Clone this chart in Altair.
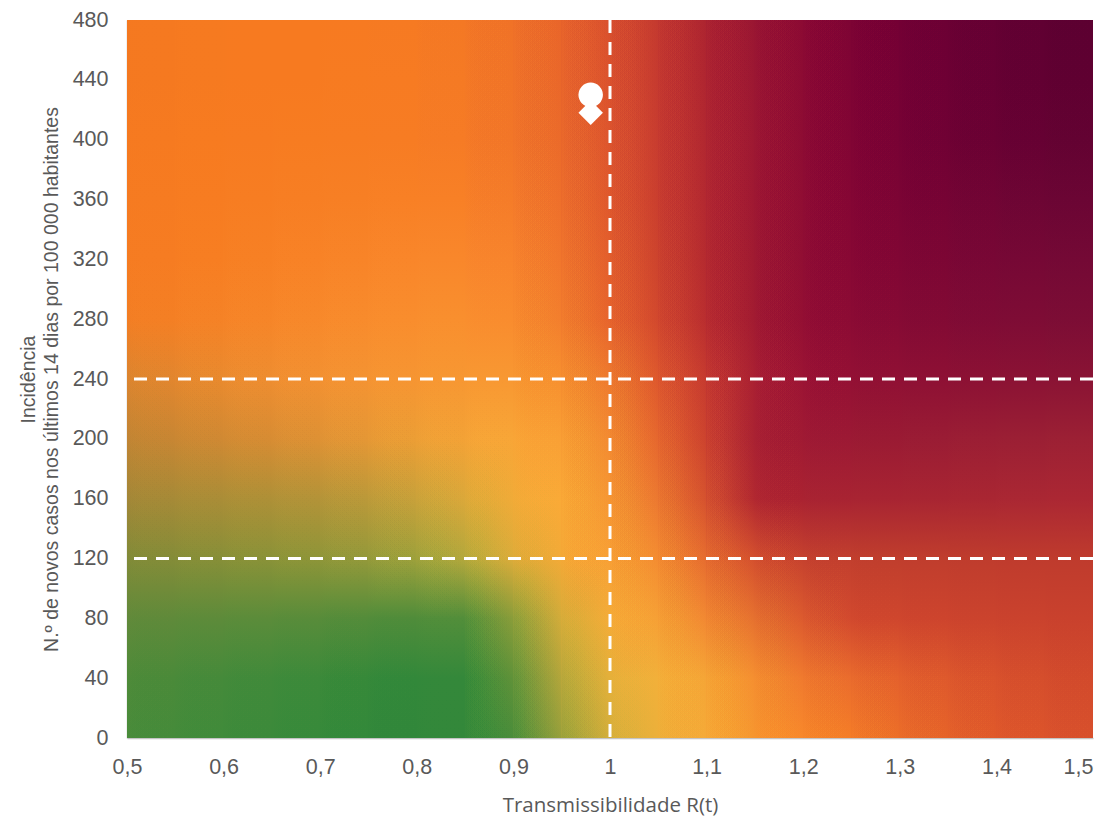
import altair as alt
import pandas as pd

# grid sample positions (R(t) columns, incidence rows)
r_values = [0.5, 0.55, 0.6, 0.65, 0.7, 0.75, 0.8, 0.85, 0.9, 0.95, 1.0,
            1.05, 1.1, 1.15, 1.2, 1.25, 1.3, 1.35, 1.4, 1.45, 1.5]
inc_values = [0, 40, 80, 120, 160, 200, 240, 280, 320, 360, 400, 440, 480]

# colours, one list per incidence row, one entry per R(t) column
row_0 = ["#4a8c3a", "#458b3a", "#408b3a", "#3c8a3a", "#378a3a", "#33893a", "#31873a", "#33883a", "#4a8d3a", "#98a03b", "#d4ae3a",
         "#ecb03a", "#f5aa37", "#f6962f", "#f8882b", "#f57d27", "#ec6e28", "#e66329", "#e0592a", "#dc542b", "#d8502c"]
row_40 = ["#4f8b39", "#4a8a39", "#458a3a", "#408a3a", "#3c8a3a", "#368939", "#32883a", "#34883a", "#609239", "#b4a63b", "#e4b03a",
          "#f2b03a", "#f5a536", "#f58f30", "#f07a2e", "#ea6c2d", "#e4612c", "#de592c", "#d9522c", "#d54e2c", "#d24a2c"]
row_80 = ["#62893a", "#5f8a3a", "#5d8b3a", "#5b8c3a", "#588c3a", "#538c3a", "#4f8c3a", "#528e3a", "#8a9d3a", "#d4ac3a", "#f4ac38",
          "#f6a035", "#f28832", "#e6712f", "#dc5a2e", "#d2492e", "#cf462d", "#cd442d", "#cb432d", "#ca422d", "#c9412d"]
row_120 = ["#808a38", "#848c38", "#878f38", "#8a9238", "#8e9538", "#94993a", "#9ea13b", "#b4a83c", "#dcac3a", "#f3aa37", "#f8a035",
           "#f48c31", "#e66c2f", "#d4502e", "#c6422e", "#c23f2e", "#c03e2d", "#c03d2d", "#bf3c2d", "#bf3b2d", "#bf3b2d"]
row_160 = ["#a28637", "#a68a37", "#aa8d37", "#ae9037", "#b39338", "#bb9939", "#c8a13a", "#dba83a", "#f0ab38", "#faaa37", "#f69633",
           "#ec7830", "#d5512e", "#b22830", "#aa2231", "#a82332", "#a82432", "#a82532", "#a92632", "#aa2733", "#ab2733"]
row_200 = ["#c08434", "#c88633", "#d08933", "#d78c33", "#de9134", "#e59735", "#ec9e35", "#f3a236", "#f8a637", "#f9a035", "#f38a31",
           "#e6672e", "#cc422e", "#aa2232", "#a01a33", "#9c1934", "#9a1a33", "#9a1c34", "#9b1e34", "#9b1f34", "#9c2034"]
row_240 = ["#da8430", "#e2862e", "#e98a2e", "#ee8d30", "#f29031", "#f49332", "#f69532", "#f79732", "#f89832", "#f7902f", "#ee7a2e",
           "#de582d", "#c63a2f", "#aa2032", "#9c1434", "#941034", "#901034", "#8e1034", "#8c1134", "#8b1234", "#8a1334"]
row_280 = ["#f27d23", "#f47f24", "#f58226", "#f68528", "#f7882a", "#f88b2c", "#f98d2d", "#f98f2e", "#f98c2e", "#f37e2d", "#e7642c",
           "#d2482d", "#b92d2f", "#a21b31", "#940f33", "#8c0b34", "#860a34", "#820a34", "#7f0b35", "#7e0c35", "#7c0d35"]
row_320 = ["#f57b21", "#f67c22", "#f77e22", "#f78024", "#f88226", "#f88428", "#f9862a", "#f9872b", "#f8842c", "#f1762c", "#e35e2c",
           "#cd432d", "#b52a2f", "#a01a31", "#910e33", "#880834", "#810634", "#7c0634", "#780735", "#760835", "#740935"]
row_360 = ["#f57a21", "#f67b21", "#f77c21", "#f77d22", "#f77e23", "#f77f24", "#f88025", "#f88026", "#f57c29", "#ee6f2b", "#df582c",
           "#ca3e2e", "#b32830", "#9f1832", "#900d33", "#850634", "#7c0434", "#760334", "#710434", "#6d0534", "#6b0534"]
row_400 = ["#f57920", "#f67a20", "#f77b20", "#f77b21", "#f77c21", "#f77c22", "#f77c23", "#f67b25", "#f27628", "#eb6a2a", "#dd552d",
           "#c83c2f", "#b12730", "#9e1832", "#8e0c33", "#820534", "#780234", "#700134", "#6a0133", "#660133", "#630232"]
row_440 = ["#f47820", "#f57920", "#f67a20", "#f77a20", "#f77a20", "#f77b21", "#f77b22", "#f57a24", "#f17427", "#ea672a", "#db522d",
           "#c63a2f", "#af2530", "#9c1732", "#8d0b33", "#800434", "#760134", "#6e0034", "#670033", "#620032", "#5f0031"]
row_480 = ["#f47820", "#f57920", "#f67a20", "#f77a20", "#f77a20", "#f77a21", "#f67a22", "#f47824", "#f07227", "#e9652a", "#d9502d",
           "#c4392f", "#ad2430", "#9a1632", "#8c0a33", "#7e0434", "#740034", "#6c0034", "#650033", "#600032", "#5c0031"]
grid = [row_0, row_40, row_80, row_120, row_160, row_200, row_240,
        row_280, row_320, row_360, row_400, row_440, row_480]

# axes
x_ticks = [0.5, 0.6, 0.7, 0.8, 0.9, 1.0, 1.1, 1.2, 1.3, 1.4, 1.5]
y_ticks = [0, 40, 80, 120, 160, 200, 240, 280, 320, 360, 400, 440, 480]
x_domain = [0.5, 1.5]
y_domain = [0, 480]
x_title = "Transmissibilidade R(t)"
y_title = ["Incidência", "N.º de novos casos nos últimos 14 dias por 100 000 habitantes"]

# threshold lines
threshold_r = [1.0]
threshold_inc = [120, 240]

# current situation markers
point_r = [0.98, 0.98]
point_inc = [430, 418]
point_kind = ["circle", "diamond"]

xs = alt.Scale(domain=x_domain, nice=False, zero=False)
ys = alt.Scale(domain=y_domain, nice=False, zero=False)

label_fmt = "replace(format(datum.value, '~g'), '.', ',')"

x_axis = alt.Axis(values=x_ticks, labelExpr=label_fmt, title=x_title,
                  labelFlush=False, labelPadding=18, titlePadding=18,
                  labelAlign={"condition": {"test": "datum.value >= 1.49", "value": "right"}, "value": "center"},
                  titleFont="Open Sans", titleFontSize=20.5, titleFontWeight="normal")
y_axis = alt.Axis(values=y_ticks, labelExpr=label_fmt, title=y_title,
                  labelPadding=19, titlePadding=11, titleFont="Liberation Sans", titleFontSize=19.5,
                  titleFontWeight="normal", titleLineHeight=22.5)


def X(f):
    return alt.X(f, scale=xs, axis=x_axis)


def Y(f):
    return alt.Y(f, scale=ys, axis=y_axis)


def vgrad(colors):
    stops = [alt.GradientStop(offset=round((yv - y_domain[0]) / (y_domain[1] - y_domain[0]), 4), color=c)
             for yv, c in zip(inc_values, colors)]
    return alt.LinearGradient(gradient="linear", stops=stops, x1=0, x2=0, y1=1, y2=0)


step = r_values[1] - r_values[0]
n_sub = 24  # nested strips used to blend neighbouring columns horizontally
# nested strip m covers [lo, lo + (m+1)/n * step]; its opacity makes the
# left column fade out linearly towards the right column
nest_alpha = [1 - (m + 0.5) / (m + 1.5) for m in range(n_sub - 1)] + [0.5 / n_sub]

bottoms, tops = [], []
for j in range(len(r_values) - 1):
    left_col = [grid[i][j] for i in range(len(inc_values))]
    right_col = [grid[i][j + 1] for i in range(len(inc_values))]
    lo, hi = r_values[j], r_values[j + 1]
    # opaque base: right-hand column colours (slightly overlapping the next strip)
    base = pd.DataFrame({"r0": [lo], "r1": [min(x_domain[1], hi + step * 0.3)],
                         "i0": [y_domain[0]], "i1": [y_domain[1]]})
    bottoms.append(alt.Chart(base).mark_rect(fill=vgrad(right_col), strokeWidth=0).encode(
        x=X("r0:Q"), x2="r1:Q", y=Y("i0:Q"), y2="i1:Q"))
    # left-hand column colours fading out towards the right
    sub = pd.DataFrame({
        "r0": [lo] * n_sub,
        "r1": [lo + (m + 1) * step / n_sub for m in range(n_sub)],
        "i0": [y_domain[0]] * n_sub, "i1": [y_domain[1]] * n_sub,
        "a": nest_alpha,
    })
    tops.append(alt.Chart(sub).mark_rect(fill=vgrad(left_col), strokeWidth=0).encode(
        x=X("r0:Q"), x2="r1:Q", y=Y("i0:Q"), y2="i1:Q",
        fillOpacity=alt.FillOpacity("a:Q", scale=None)))

dash = [13, 9]
rules_h = alt.Chart(pd.DataFrame({"inc": threshold_inc})).mark_rule(
    color="white", strokeWidth=3, strokeDash=dash).encode(y=Y("inc:Q"))
rules_v = alt.Chart(pd.DataFrame({"r": threshold_r})).mark_rule(
    color="white", strokeWidth=3, strokeDash=dash).encode(x=X("r:Q"))

points = alt.Chart(pd.DataFrame({"r": point_r, "inc": point_inc, "kind": point_kind})).mark_point(
    filled=True, color="white", opacity=1, size=600).encode(
    x=X("r:Q"), y=Y("inc:Q"),
    shape=alt.Shape("kind:N", scale=alt.Scale(domain=["circle", "diamond"], range=["circle", "diamond"]), legend=None))

chart = alt.layer(*bottoms, *tops, rules_h, rules_v, points).properties(
    width=966, height=718,
    autosize=alt.AutoSizeParams(type="none"),
    padding={"left": 119, "top": 12, "right": 3, "bottom": 86},
    background="white",
).configure_view(strokeWidth=0).configure_axis(
    grid=False, ticks=False, domainColor="#c4c4c4", domainWidth=1.5,
    labelColor="#595959", labelFont="Liberation Sans", labelFontSize=21.5,
    titleColor="#595959", labelOverlap=False,
)

chart.save("out.html", embed_options={"renderer": "svg", "actions": False})
